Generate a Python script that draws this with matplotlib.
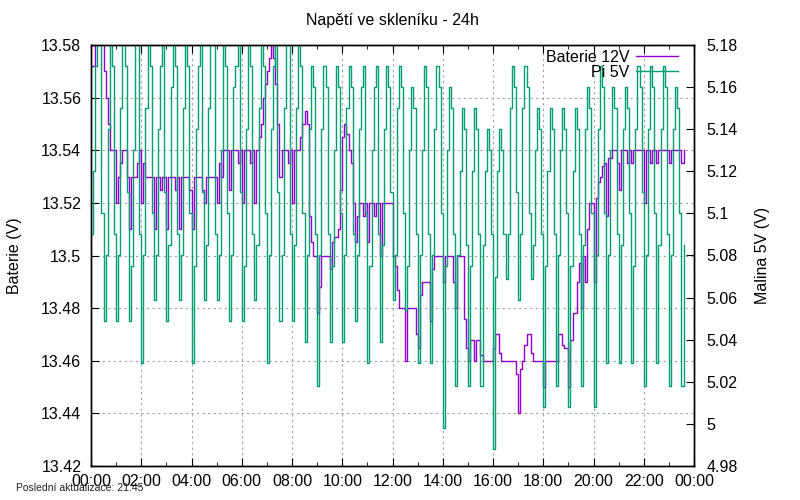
import numpy as np
import matplotlib
matplotlib.use("Agg")
import matplotlib.pyplot as plt
from matplotlib.ticker import FuncFormatter, MultipleLocator

plt.rcParams['font.family'] = ['Liberation Sans', 'DejaVu Sans']

title = "Napětí ve skleníku - 24h"
footer = "Poslední aktualizace: 21:45"
label_left = "Baterie (V)"
label_right = "Malina 5V (V)"
series_names = ["Baterie 12V", "Pi 5V"]
x_tick_hours = [0, 2, 4, 6, 8, 10, 12, 14, 16, 18, 20, 22, 24]
x_tick_labels = ["00:00", "02:00", "04:00", "06:00", "08:00", "10:00", "12:00",
                 "14:00", "16:00", "18:00", "20:00", "22:00", "00:00"]
sample_minutes = 5.0   # one reading every 5 minutes from 00:00

# Baterie 12V (left axis), one row per hour, 12 readings per hour
baterie = [
    13.572, 13.572, 13.59, 13.59, 13.59, 13.59, 13.57, 13.56, 13.55, 13.54, 13.54, 13.54,
    13.52, 13.53, 13.535, 13.54, 13.54, 13.53, 13.51, 13.53, 13.53, 13.53, 13.535, 13.54,
    13.52, 13.535, 13.53, 13.53, 13.53, 13.53, 13.51, 13.53, 13.53, 13.525, 13.53, 13.53,
    13.51, 13.53, 13.53, 13.53, 13.525, 13.53, 13.51, 13.53, 13.53, 13.53, 13.53, 13.525,
    13.51, 13.53, 13.53, 13.53, 13.53, 13.525, 13.52, 13.53, 13.53, 13.53, 13.53, 13.53,
    13.52, 13.535, 13.53, 13.54, 13.54, 13.54, 13.525, 13.54, 13.54, 13.54, 13.535, 13.54,
    13.52, 13.54, 13.54, 13.54, 13.535, 13.54, 13.52, 13.54, 13.545, 13.55, 13.56, 13.565,
    13.57, 13.575, 13.585, 13.575, 13.565, 13.55, 13.53, 13.54, 13.54, 13.54, 13.535, 13.54,
    13.52, 13.54, 13.54, 13.54, 13.545, 13.55, 13.555, 13.55, 13.515, 13.505, 13.5, 13.5,
    13.478, 13.488, 13.5, 13.5, 13.5, 13.5, 13.495, 13.505, 13.507, 13.507, 13.51, 13.525,
    13.545, 13.55, 13.546, 13.54, 13.535, 13.52, 13.505, 13.515, 13.52, 13.52, 13.515, 13.52,
    13.505, 13.52, 13.52, 13.515, 13.52, 13.52, 13.5, 13.52, 13.52, 13.52, 13.52, 13.52,
    13.5, 13.496, 13.487, 13.48, 13.48, 13.48, 13.46, 13.48, 13.48, 13.48, 13.48, 13.47,
    13.465, 13.485, 13.49, 13.49, 13.49, 13.49, 13.475, 13.495, 13.5, 13.5, 13.5, 13.5,
    13.49, 13.5, 13.5, 13.5, 13.5, 13.49, 13.48, 13.5, 13.5, 13.5, 13.476, 13.465,
    13.46, 13.468, 13.468, 13.46, 13.468, 13.468, 13.462, 13.46, 13.46, 13.46, 13.46, 13.46,
    13.465, 13.47, 13.47, 13.463, 13.46, 13.46, 13.46, 13.46, 13.46, 13.46, 13.46, 13.455,
    13.44, 13.457, 13.46, 13.466, 13.47, 13.47, 13.463, 13.46, 13.46, 13.46, 13.46, 13.46,
    13.45, 13.46, 13.46, 13.46, 13.46, 13.46, 13.46, 13.47, 13.47, 13.466, 13.465, 13.465,
    13.45, 13.468, 13.478, 13.478, 13.49, 13.497, 13.48, 13.5, 13.49, 13.51, 13.52, 13.52,
    13.49, 13.522, 13.528, 13.53, 13.534, 13.535, 13.515, 13.537, 13.537, 13.54, 13.54, 13.535,
    13.525, 13.54, 13.54, 13.54, 13.535, 13.54, 13.535, 13.54, 13.54, 13.54, 13.54, 13.54,
    13.52, 13.54, 13.54, 13.535, 13.54, 13.54, 13.535, 13.54, 13.54, 13.54, 13.54, 13.54,
    13.535, 13.54, 13.54, 13.54, 13.54, 13.54, 13.535, 13.54,
]

# Pi 5V (right axis), one row per hour, 12 readings per hour
pi5v = [
    5.09, 5.12, 5.17, 5.19, 5.18, 5.10, 5.049, 5.08, 5.14, 5.19, 5.17, 5.09,
    5.049, 5.08, 5.15, 5.19, 5.17, 5.11, 5.049, 5.075, 5.13, 5.19, 5.18, 5.09,
    5.029, 5.08, 5.15, 5.19, 5.17, 5.10, 5.059, 5.08, 5.14, 5.17, 5.19, 5.11,
    5.049, 5.085, 5.16, 5.19, 5.17, 5.09, 5.059, 5.08, 5.15, 5.19, 5.17, 5.10,
    5.029, 5.075, 5.14, 5.17, 5.19, 5.11, 5.059, 5.085, 5.15, 5.19, 5.18, 5.09,
    5.059, 5.08, 5.13, 5.19, 5.17, 5.10, 5.049, 5.08, 5.16, 5.17, 5.19, 5.11,
    5.049, 5.075, 5.14, 5.19, 5.17, 5.09, 5.059, 5.085, 5.15, 5.19, 5.17, 5.10,
    5.029, 5.08, 5.14, 5.17, 5.19, 5.11, 5.049, 5.08, 5.15, 5.19, 5.18, 5.09,
    5.049, 5.085, 5.15, 5.19, 5.17, 5.10, 5.039, 5.08, 5.14, 5.17, 5.16, 5.09,
    5.018, 5.08, 5.14, 5.17, 5.16, 5.09, 5.039, 5.075, 5.13, 5.17, 5.16, 5.10,
    5.039, 5.08, 5.15, 5.17, 5.16, 5.09, 5.049, 5.08, 5.14, 5.16, 5.17, 5.10,
    5.029, 5.075, 5.13, 5.16, 5.17, 5.09, 5.039, 5.085, 5.14, 5.17, 5.16, 5.11,
    5.059, 5.08, 5.15, 5.17, 5.16, 5.10, 5.054, 5.075, 5.13, 5.16, 5.15, 5.09,
    5.029, 5.08, 5.13, 5.17, 5.16, 5.09, 5.029, 5.08, 5.14, 5.17, 5.16, 5.10,
    4.998, 5.075, 5.13, 5.16, 5.15, 5.09, 5.018, 5.08, 5.12, 5.15, 5.14, 5.085,
    5.018, 5.075, 5.12, 5.15, 5.14, 5.09, 5.018, 5.085, 5.12, 5.14, 5.13, 5.09,
    4.988, 5.07, 5.12, 5.14, 5.13, 5.09, 5.069, 5.09, 5.15, 5.17, 5.16, 5.11,
    5.059, 5.09, 5.15, 5.17, 5.16, 5.10, 5.069, 5.085, 5.13, 5.15, 5.14, 5.09,
    5.008, 5.075, 5.12, 5.15, 5.14, 5.09, 5.018, 5.08, 5.13, 5.15, 5.14, 5.10,
    5.008, 5.075, 5.12, 5.15, 5.14, 5.09, 5.018, 5.085, 5.14, 5.16, 5.15, 5.10,
    5.008, 5.08, 5.14, 5.17, 5.16, 5.10, 5.029, 5.08, 5.13, 5.16, 5.15, 5.09,
    5.029, 5.085, 5.14, 5.16, 5.15, 5.10, 5.029, 5.075, 5.14, 5.17, 5.16, 5.11,
    5.018, 5.08, 5.14, 5.17, 5.16, 5.10, 5.029, 5.085, 5.14, 5.17, 5.16, 5.09,
    5.018, 5.08, 5.14, 5.16, 5.15, 5.10, 5.018, 5.085,
]

hours = np.arange(len(baterie)) * sample_minutes / 60.0

purple = "#9400D3"
green = "#009E73"

fig = plt.figure(figsize=(8, 5), dpi=100)
ax = fig.add_axes([91/800, 34/500, 603/800, 421/500])
ax2 = ax.twinx()

ax.set_xlim(0, 24)
ax.set_ylim(13.42, 13.58)
ax2.set_ylim(4.98, 5.18)

ax.grid(True, color="#a0a0a0", linestyle=(0, (2, 3)), linewidth=0.8)
ax.set_axisbelow(True)

l1, = ax.plot(hours, baterie, color=purple, lw=1.0, drawstyle="steps-post")
l2, = ax2.plot(hours, pi5v, color=green, lw=1.0, drawstyle="steps-post")

fmt = FuncFormatter(lambda v, p: "%g" % round(v, 4))
ax.yaxis.set_major_locator(MultipleLocator(0.02))
ax.yaxis.set_major_formatter(fmt)
ax2.yaxis.set_major_locator(MultipleLocator(0.02))
ax2.yaxis.set_major_formatter(fmt)
ax.set_xticks(x_tick_hours)
ax.set_xticklabels(x_tick_labels)
ax.xaxis.set_minor_locator(MultipleLocator(1))

ax.tick_params(axis="x", which="major", direction="in", length=6, top=True,
               labelsize=11.5, pad=6)
ax.tick_params(axis="x", which="minor", direction="in", length=3, top=True)
ax.tick_params(axis="y", which="major", direction="in", length=6, labelsize=11.5,
               right=False, pad=7)
ax2.tick_params(axis="y", which="major", direction="in", length=6, labelsize=11.5,
                pad=9)

for a in (ax, ax2):
    for s in a.spines.values():
        s.set_linewidth(1.0)
        s.set_color("black")

ax.set_ylabel(label_left, fontsize=11.5, labelpad=14)
ax2.set_ylabel(label_right, fontsize=11.5, labelpad=12)
fig.text(392.5/800, 1 - 20/500, title, ha="center", va="center", fontsize=11.5)
fig.text(16/800, 1 - 488/500, footer, ha="left", va="center", fontsize=7.5, color="#222222")

ax2.legend([l1, l2], series_names, loc="upper right",
           bbox_to_anchor=(678/800, 1 - 50/500), bbox_transform=fig.transFigure,
           frameon=False, markerfirst=False, handlelength=2.6, handletextpad=0.45,
           labelspacing=-0.03, borderpad=0, borderaxespad=0, fontsize=11.5)

fig.savefig("out.png", dpi=100)
